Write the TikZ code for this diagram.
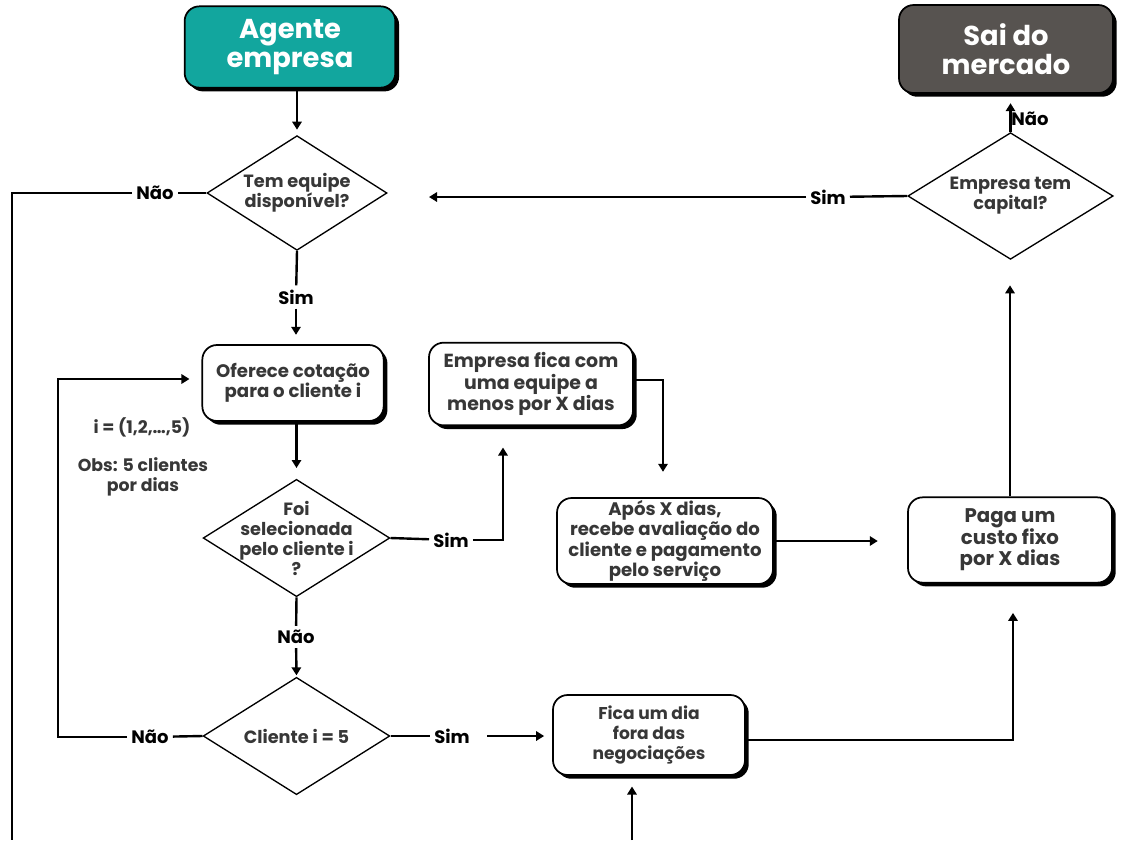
\documentclass[tikz,border=0pt]{standalone}
\usepackage{fontspec}
\setmainfont{Poppins}
\usetikzlibrary{shapes.geometric,arrows.meta,shadows,calc}
\definecolor{tealbox}{RGB}{18,166,158}
\definecolor{graybox}{RGB}{87,83,80}
\definecolor{txt}{RGB}{55,55,55}
\begin{document}
\begin{tikzpicture}[x=0.75pt,y=-0.75pt,
  box/.style={draw=black, line width=1.3pt, rounded corners=11pt, fill=white,
    align=center, font=\bfseries\fontsize{13.6}{15.2}\selectfont, text=txt, inner sep=0pt,
    drop shadow={shadow xshift=2.8pt,shadow yshift=-2.8pt,opacity=1,fill=black}},
  bigbox/.style={box, font=\bfseries\fontsize{20.5}{22}\selectfont, text=white},
  decision/.style={diamond, draw=black, line width=1pt, inner sep=0pt, fill=white},
  dtext/.style={align=center, font=\bfseries\fontsize{13.3}{15}\selectfont, text=txt, inner sep=0pt},
  lbl/.style={font=\bfseries\fontsize{13.5}{14}\selectfont, text=black, inner sep=3pt},
  note/.style={align=center, font=\bfseries\fontsize{13}{15}\selectfont, text=txt},
  conn/.style={line width=1.8pt, draw=black},
  arr/.style={conn, -{Triangle[length=6pt,width=7pt]}},
]
\useasboundingbox (0,0) rectangle (1122,840);
\fill[white] (0,0) rectangle (1122,840);

% boxes
\node[bigbox, fill=tealbox, minimum width=158pt, minimum height=61pt] (agente) at (290,47) {Agente\\empresa};
\node[bigbox, fill=graybox, minimum width=160.5pt, minimum height=66pt] (sai) at (1006,49) {Sai do\\mercado};
\node[box, minimum width=136pt, minimum height=57pt] (oferece) at (293,383) {Oferece cotação\\para o cliente i};
\node[box, font=\bfseries\fontsize{14.2}{16}\selectfont, minimum width=153pt, minimum height=62pt] (empresa) at (531,384) {Empresa fica com\\uma equipe a\\menos por X dias};
\node[box, minimum width=162pt, minimum height=64.5pt] (apos) at (665,541) {Após X dias,\\recebe avaliação do\\cliente e pagamento\\pelo serviço};
\node[box, font=\bfseries\fontsize{14.8}{16.2}\selectfont, minimum width=153pt, minimum height=64pt] (paga) at (1010,540) {Paga um\\custo fixo\\por X dias};
\node[box, font=\bfseries\fontsize{12.8}{15}\selectfont, minimum width=144pt, minimum height=60pt] (fica) at (649,735) {Fica um dia\\fora das\\negociações};

% decisions
\node[decision, minimum width=135pt, minimum height=86pt] (d1) at (297,193) {};
\node[dtext] at (d1) {Tem equipe\\disponível?};
\node[decision, minimum width=140pt, minimum height=88pt] (d2) at (296.5,538) {};
\node[dtext] at (d2) {Foi\\selecionada\\pelo cliente i\\?};
\node[decision, minimum width=140pt, minimum height=88pt] (d3) at (296.5,736) {};
\node[dtext, font=\bfseries\fontsize{13.3}{15}\selectfont] at (d3) {Cliente i = 5};
\node[decision, minimum width=154pt, minimum height=95pt] (d4) at (1010.5,196) {};
\node[dtext] at (d4) {Empresa tem\\capital?};

% labels
\node[lbl] (nao1) at (155,193) {Não};
\node[lbl] (sim1) at (296,297) {Sim};
\node[lbl] (sim2) at (451,540) {Sim};
\node[lbl] (nao2) at (296,637) {Não};
\node[lbl] (nao3) at (150,737) {Não};
\node[lbl] (sim3) at (452,736) {Sim};
\node[lbl] (sim4) at (828,197) {Sim};
\node[lbl, inner sep=1pt] (nao4) at (1030,119) {Não};
\node[note] (ival) at (142,427) {i = (1,2,…,5)};
\node[note] (obs) at (143,477) {Obs: 5 clientes\\por dias};

% coordinates
\coordinate (cL1) at (12,193);
\coordinate (cL2) at (12,840);
\coordinate (e1) at (503,540);
\coordinate (f1) at (663,380);
\coordinate (m1) at (58,737);
\coordinate (m2) at (58,379);
\coordinate (o1) at (1013,740);
\coordinate (p1) at (632,840);

% connectors
\draw[arr, shorten >=4pt] (d1.north |- agente.south) -- (d1.north);
\draw[conn] (d1.west) -- (nao1);
\draw[conn] (nao1.west) -- (cL1) -- (cL2);
\draw[conn] (d1.south) -- (sim1);
\draw[arr, shorten >=7pt] (sim1) -- (sim1 |- oferece.north);
\draw[arr, shorten >=8pt] (d2.north |- oferece.south) -- (d2.north);
\draw[conn] (d2.east) -- (sim2);
\draw[arr, shorten >=16pt] (sim2.east) -- (e1) -- (e1 |- empresa.south);
\draw[arr, shorten >=19pt] (empresa.east |- f1) -- (f1) -- (f1 |- apos.north);
\draw[arr, shorten >=22pt] (apos.east) -- (paga.west |- apos.east);
\draw[arr, shorten >=19pt] (paga.north) -- (paga.north |- d4.south);
\draw[arr, shorten >=7pt] (d4.north) -- (d4.north |- sai.south);
\draw[conn] (d4.west) -- (sim4);
\draw[arr, shorten >=31pt] (sim4.west) -- (sim4.west -| d1.east);
\draw[conn] (d2.south) -- (nao2);
\draw[arr, shorten >=1pt] (nao2) -- (d3.north);
\draw[conn] (d3.west) -- (nao3);
\draw[arr, shorten >=9pt] (nao3.west) -- (m1) -- (m2) -- (m2 -| oferece.west);
\draw[conn] (d3.east) -- (sim3);
\draw[arr, shorten <=10pt, shorten >=6pt] (sim3.east) -- (sim3.east -| fica.west);
\draw[arr, shorten >=22pt] (fica.east |- o1) -- (o1) -- (o1 |- paga.south);
\draw[arr, shorten >=8pt] (p1) -- (p1 |- fica.south);
\end{tikzpicture}
\end{document}
